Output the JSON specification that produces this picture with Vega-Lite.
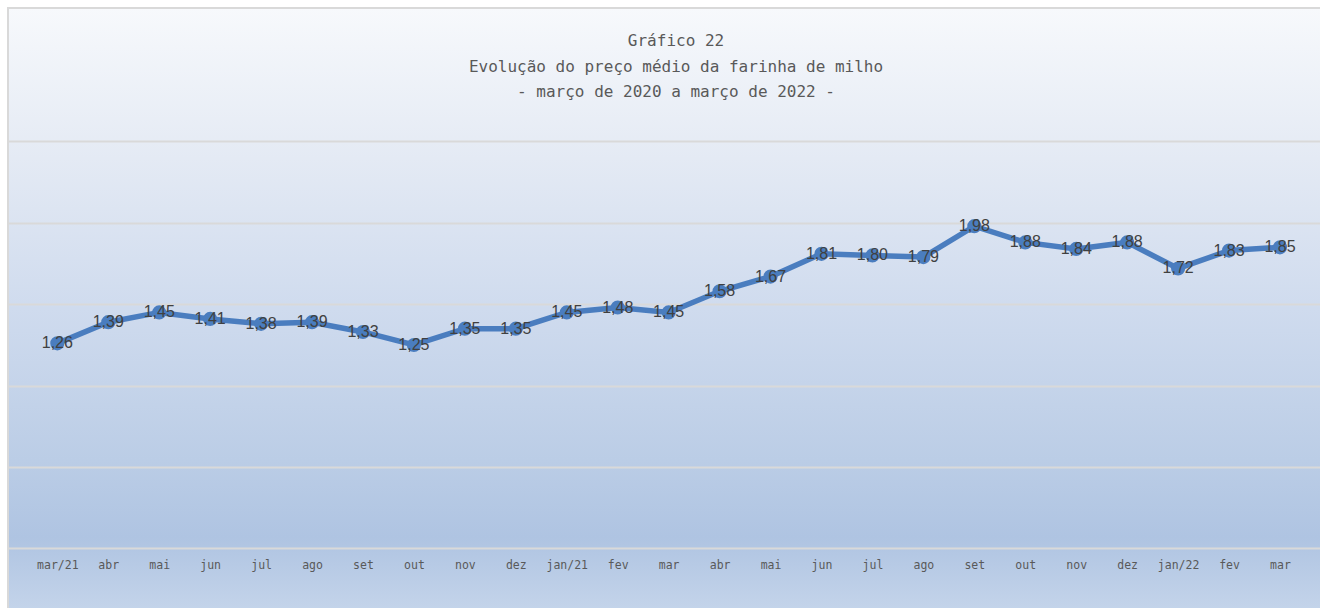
{
  "$schema": "https://vega.github.io/schema/vega-lite/v6.json",
  "width": 1316,
  "height": 602,
  "padding": {"left": 8, "top": 8, "right": 0, "bottom": 0},
  "autosize": {"type": "none"},
  "background": "#ffffff",
  "config": {
    "view": {
      "stroke": "#d9d9d9",
      "strokeWidth": 2,
      "fill": {
        "gradient": "linear",
        "x1": 0, "y1": 0, "x2": 0, "y2": 1,
        "stops": [
          {"offset": 0, "color": "#f7f9fc"},
          {"offset": 0.25, "color": "#e4eaf4"},
          {"offset": 0.5, "color": "#cfdbee"},
          {"offset": 0.75, "color": "#bbcde6"},
          {"offset": 0.88, "color": "#afc4e2"},
          {"offset": 1, "color": "#c4d4ea"}
        ]
      }
    }
  },
  "title": {
    "text": ["Gráfico 22", "Evolução do preço médio da farinha de milho", "- março de 2020 a março de 2022 -"],
    "font": "DejaVu Sans Mono",
    "fontSize": 16,
    "fontWeight": "normal",
    "color": "#595959",
    "anchor": "middle",
    "lineHeight": 25.5,
    "offset": -92,
    "dx": 10
  },
  "data": {"values": [
    {"i": 0, "v": 1.26, "t": "1,26"}, {"i": 1, "v": 1.39, "t": "1,39"}, {"i": 2, "v": 1.45, "t": "1,45"}, {"i": 3, "v": 1.41, "t": "1,41"},
    {"i": 4, "v": 1.38, "t": "1,38"}, {"i": 5, "v": 1.39, "t": "1,39"}, {"i": 6, "v": 1.33, "t": "1,33"}, {"i": 7, "v": 1.25, "t": "1,25"},
    {"i": 8, "v": 1.35, "t": "1,35"}, {"i": 9, "v": 1.35, "t": "1,35"}, {"i": 10, "v": 1.45, "t": "1,45"}, {"i": 11, "v": 1.48, "t": "1,48"},
    {"i": 12, "v": 1.45, "t": "1,45"}, {"i": 13, "v": 1.58, "t": "1,58"}, {"i": 14, "v": 1.67, "t": "1,67"}, {"i": 15, "v": 1.81, "t": "1,81"},
    {"i": 16, "v": 1.80, "t": "1,80"}, {"i": 17, "v": 1.79, "t": "1,79"}, {"i": 18, "v": 1.98, "t": "1,98"}, {"i": 19, "v": 1.88, "t": "1,88"},
    {"i": 20, "v": 1.84, "t": "1,84"}, {"i": 21, "v": 1.88, "t": "1,88"}, {"i": 22, "v": 1.72, "t": "1,72"}, {"i": 23, "v": 1.83, "t": "1,83"},
    {"i": 24, "v": 1.85, "t": "1,85"}
  ]},
  "encoding": {
    "x": {
      "field": "i", "type": "quantitative",
      "scale": {"domain": [-0.968, 24.864], "nice": false, "zero": false},
      "axis": {
        "title": null, "values": [0,1,2,3,4,5,6,7,8,9,10,11,12,13,14,15,16,17,18,19,20,21,22,23,24],
        "labelExpr": "['mar/21','abr','mai','jun','jul','ago','set','out','nov','dez','jan/21','fev','mar','abr','mai','jun','jul','ago','set','out','nov','dez','jan/22','fev','mar'][datum.value]",
        "ticks": false, "domain": false, "grid": false,
        "offset": -61, "labelPadding": 10,
        "labelFont": "DejaVu Sans Mono", "labelFontSize": 11.5, "labelColor": "#595959",
        "labelFlush": false, "labelOverlap": false
      }
    },
    "y": {
      "field": "v", "type": "quantitative",
      "scale": {"domain": [-0.378, 3.32], "nice": false, "zero": false},
      "axis": {
        "title": null, "values": [0, 0.5, 1, 1.5, 2, 2.5],
        "labels": false, "ticks": false, "domain": false,
        "grid": true, "gridColor": "#d9d9d9", "gridWidth": 2, "gridOpacity": 1
      }
    }
  },
  "layer": [
    {"mark": {"type": "line", "color": "#4a7dbf", "strokeWidth": 5.5}},
    {"mark": {"type": "circle", "color": "#4a7dbf", "opacity": 1, "size": 200}},
    {
      "mark": {"type": "text", "font": "Liberation Sans", "fontSize": 16, "color": "#404040", "align": "center", "baseline": "middle"},
      "encoding": {"text": {"field": "t", "type": "nominal"}}
    }
  ]
}
